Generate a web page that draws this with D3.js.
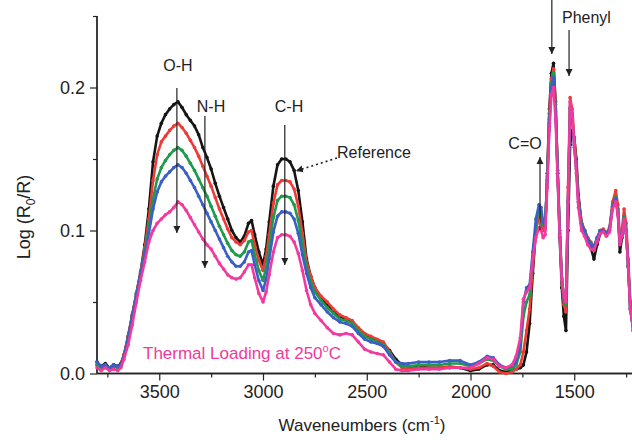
<!DOCTYPE html>
<meta charset="utf-8">
<style>
    body { margin: 0; background: #fff; }
    text { font-family: "Liberation Sans", Arial, sans-serif; fill: #222; }
    .tick text { font-size: 18px; }
    .annot { font-size: 16px; }
</style>
<body>
<script src="https://d3js.org/d3.v7.min.js"></script>
<script>
// wavenumber grid (cm-1), shared by all traces
let wavenumbers = [
    3800, 3780, 3760, 3740, 3720, 3700, 3685,
    3670, 3650, 3630, 3610, 3590, 3570, 3550, 3530, 3510, 3490, 3470, 3450, 3430, 3410,
    3390, 3370, 3350, 3330, 3310, 3290, 3270, 3250, 3230, 3210, 3190, 3170, 3150, 3130, 3110, 3090, 3070, 3055, 3040, 3020, 3000,
    2985, 2970, 2950, 2930, 2910, 2890, 2870, 2850, 2830, 2810, 2790,
    2770, 2750, 2720, 2690, 2660, 2630, 2600, 2570, 2540, 2510, 2480, 2450, 2420, 2390, 2360, 2330, 2300,
    2250, 2200, 2150, 2100, 2050, 2000, 1960, 1920, 1890, 1860, 1830, 1800,
    1780, 1760, 1745, 1730, 1715, 1700, 1685, 1670, 1660, 1650, 1640, 1630, 1620, 1610, 1600, 1590,
    1580, 1570, 1560, 1550, 1540, 1530, 1520, 1510, 1500, 1490, 1480, 1465, 1450, 1435, 1420, 1405,
    1390, 1375, 1360, 1345, 1330, 1315, 1300, 1290, 1280, 1270, 1260, 1250, 1240, 1230, 1215, 1200
];

// Log(R0/R) for each loading step (black = reference)
let referenceValues = [
    0.008, 0.005, 0.007, 0.004, 0.006, 0.005, 0.007,
    0.013, 0.026, 0.041, 0.056, 0.071, 0.09, 0.115, 0.148, 0.166, 0.175, 0.181, 0.185, 0.188, 0.19,
    0.186, 0.181, 0.177, 0.173, 0.167, 0.158, 0.151, 0.143, 0.133, 0.124, 0.116, 0.108, 0.1, 0.095, 0.092, 0.096, 0.105, 0.107, 0.097, 0.085, 0.076,
    0.087, 0.106, 0.131, 0.146, 0.15, 0.15, 0.148, 0.142, 0.128, 0.106, 0.08,
    0.068, 0.06, 0.053, 0.048, 0.044, 0.04, 0.038, 0.036, 0.031, 0.027, 0.025, 0.023, 0.021, 0.016, 0.01, 0.006, 0.005,
    0.005, 0.004, 0.004, 0.004, 0.004, 0.002, 0.003, 0.006, 0.006, 0.002, 0.001, 0.002,
    0.003, 0.004, 0.006, 0.015, 0.035, 0.07, 0.1, 0.112, 0.11, 0.1, 0.102, 0.14, 0.185, 0.21, 0.217, 0.19,
    0.14, 0.095, 0.06, 0.04, 0.03, 0.1, 0.16, 0.17, 0.165, 0.15, 0.125, 0.105, 0.1, 0.093, 0.088, 0.08,
    0.09, 0.098, 0.1, 0.097, 0.1, 0.118, 0.124, 0.115, 0.085, 0.095, 0.107, 0.1, 0.075, 0.045, 0.03, 0.02
];
let redValues = [
    0.006, 0.004, 0.006, 0.003, 0.005, 0.004, 0.006,
    0.013, 0.026, 0.041, 0.056, 0.071, 0.088, 0.108, 0.135, 0.153, 0.162, 0.166, 0.17, 0.173, 0.175,
    0.172, 0.168, 0.163, 0.158, 0.152, 0.145, 0.138, 0.131, 0.123, 0.115, 0.108, 0.101, 0.095, 0.092, 0.09, 0.093, 0.099, 0.1, 0.09, 0.079, 0.072,
    0.082, 0.097, 0.119, 0.132, 0.135, 0.135, 0.134, 0.129, 0.117, 0.098, 0.078,
    0.068, 0.06, 0.054, 0.05, 0.045, 0.041, 0.039, 0.037, 0.032, 0.028, 0.026, 0.024, 0.022, 0.015, 0.008, 0.004, 0.003,
    0.004, 0.004, 0.004, 0.005, 0.004, 0.003, 0.004, 0.007, 0.005, 0.001, 0.0, 0.001,
    0.003, 0.006, 0.015, 0.03, 0.045, 0.075, 0.1, 0.112, 0.11, 0.1, 0.101, 0.138, 0.182, 0.206, 0.213, 0.188,
    0.142, 0.1, 0.065, 0.048, 0.043, 0.13, 0.193, 0.185, 0.165, 0.148, 0.122, 0.106, 0.1, 0.095, 0.092, 0.088,
    0.094, 0.1, 0.101, 0.098, 0.102, 0.12, 0.128, 0.118, 0.094, 0.1, 0.115, 0.105, 0.08, 0.05, 0.033, 0.022
];
let greenValues = [
    0.006, 0.004, 0.005, 0.003, 0.005, 0.004, 0.005,
    0.012, 0.025, 0.04, 0.055, 0.07, 0.085, 0.102, 0.122, 0.136, 0.144, 0.149, 0.153, 0.156, 0.158,
    0.156, 0.152, 0.147, 0.142, 0.136, 0.13, 0.124, 0.117, 0.11, 0.103, 0.097, 0.091, 0.086, 0.083, 0.082, 0.085, 0.092, 0.093, 0.083, 0.072, 0.065,
    0.074, 0.089, 0.109, 0.121, 0.124, 0.124, 0.123, 0.118, 0.107, 0.09, 0.074,
    0.064, 0.057, 0.051, 0.046, 0.042, 0.038, 0.037, 0.035, 0.03, 0.026, 0.024, 0.022, 0.02, 0.014, 0.008, 0.005, 0.005,
    0.006, 0.006, 0.006, 0.007, 0.007, 0.005, 0.007, 0.01, 0.009, 0.005, 0.003, 0.003,
    0.006, 0.015, 0.04, 0.05, 0.055, 0.08, 0.104, 0.115, 0.113, 0.104, 0.103, 0.136, 0.178, 0.203, 0.21, 0.185,
    0.142, 0.1, 0.067, 0.052, 0.048, 0.12, 0.186, 0.18, 0.16, 0.145, 0.12, 0.105, 0.1, 0.094, 0.091, 0.088,
    0.094, 0.1, 0.1, 0.097, 0.1, 0.117, 0.123, 0.113, 0.092, 0.098, 0.11, 0.1, 0.076, 0.047, 0.031, 0.021
];
let blueValues = [
    0.008, 0.005, 0.006, 0.004, 0.006, 0.005, 0.006,
    0.012, 0.025, 0.04, 0.055, 0.07, 0.083, 0.098, 0.115, 0.127, 0.134, 0.138, 0.141, 0.144, 0.146,
    0.144, 0.14, 0.135, 0.13, 0.124, 0.118, 0.112, 0.106, 0.1, 0.094, 0.088, 0.082, 0.078, 0.075, 0.075, 0.078, 0.085, 0.086, 0.076, 0.065, 0.058,
    0.066, 0.08, 0.099, 0.11, 0.113, 0.113, 0.112, 0.108, 0.098, 0.083, 0.07,
    0.06, 0.053, 0.048, 0.043, 0.039, 0.036, 0.035, 0.033, 0.028, 0.024, 0.022, 0.021, 0.019, 0.013, 0.008, 0.007, 0.007,
    0.008, 0.008, 0.008, 0.009, 0.009, 0.006, 0.008, 0.012, 0.011, 0.006, 0.004, 0.005,
    0.008, 0.02, 0.05, 0.06, 0.062, 0.085, 0.108, 0.118, 0.116, 0.106, 0.104, 0.135, 0.175, 0.2, 0.207, 0.183,
    0.14, 0.098, 0.066, 0.053, 0.05, 0.12, 0.185, 0.178, 0.158, 0.143, 0.12, 0.104, 0.1, 0.094, 0.09, 0.089,
    0.095, 0.1, 0.1, 0.098, 0.101, 0.117, 0.122, 0.112, 0.092, 0.097, 0.108, 0.098, 0.075, 0.046, 0.03, 0.02
];
let magentaValues = [
    0.004, 0.002, 0.004, 0.002, 0.003, 0.002, 0.004,
    0.01, 0.02, 0.034, 0.05, 0.065, 0.078, 0.092, 0.1, 0.105, 0.108, 0.111, 0.113, 0.116, 0.12,
    0.118, 0.114, 0.109, 0.104, 0.099, 0.094, 0.09, 0.087, 0.082, 0.077, 0.073, 0.069, 0.067, 0.066, 0.067, 0.071, 0.076, 0.076, 0.067, 0.056, 0.05,
    0.057, 0.069, 0.085, 0.095, 0.097, 0.097, 0.096, 0.092, 0.084, 0.072, 0.058,
    0.048, 0.042, 0.037, 0.032, 0.028, 0.027, 0.028, 0.027, 0.022, 0.017, 0.015, 0.014, 0.013, 0.008, 0.003, 0.002, 0.002,
    0.003, 0.003, 0.003, 0.004, 0.004, 0.004, 0.007, 0.011, 0.01, 0.005, 0.004, 0.006,
    0.012, 0.025, 0.052, 0.057, 0.06, 0.08, 0.095, 0.102, 0.1, 0.095, 0.097, 0.13, 0.17, 0.195, 0.2, 0.178,
    0.135, 0.096, 0.066, 0.054, 0.05, 0.12, 0.19, 0.182, 0.16, 0.14, 0.116, 0.1, 0.096, 0.09, 0.087, 0.086,
    0.092, 0.098, 0.099, 0.096, 0.099, 0.115, 0.12, 0.111, 0.09, 0.096, 0.108, 0.098, 0.074, 0.045, 0.03, 0.02
];

let seriesColors = ["#151515", "#ef3b36", "#1f9a4c", "#3b5fc6", "#f23a9e"];
let yTicks = [0.0, 0.1, 0.2];
let xTicks = [3500, 3000, 2500, 2000, 1500];

let width = 632;
let height = 440;

let svg = d3.select("body").append("svg")
    .attr("width", width)
    .attr("height", height);

let x = d3.scaleLinear()
    .domain([3800, 1200])
    .range([97, 636.5]);

let y = d3.scaleLinear()
    .domain([0, 0.25])
    .range([373.5, 16]);

// axes
let xAxis = svg.append("g")
    .attr("transform", "translate(0," + y(0) + ")")
    .call(d3.axisBottom(x).tickValues(xTicks).tickFormat(d3.format("d")).tickSize(7).tickPadding(5));
xAxis.append("g")
    .call(d3.axisBottom(x).tickValues(d3.range(3750, 1200, -500)).tickFormat("").tickSize(4));

let yAxis = svg.append("g")
    .attr("transform", "translate(" + x(3800) + ",0)")
    .call(d3.axisLeft(y).tickValues(yTicks).tickFormat(d3.format(".1f")).tickSize(7).tickPadding(5));
yAxis.append("g")
    .call(d3.axisLeft(y).tickValues([0.05, 0.15, 0.25]).tickFormat("").tickSize(4));

svg.selectAll(".domain").attr("stroke", "#222").attr("stroke-width", 1.3);
svg.selectAll(".tick line").attr("stroke", "#222").attr("stroke-width", 1.2);
svg.selectAll(".tick text").attr("fill", "#222");
// remove the outer end ticks of domain paths
xAxis.selectAll(".domain").attr("d", "M" + x(3800) + ",0H" + width);
yAxis.selectAll(".domain").attr("d", "M0," + y(0) + "V" + y(0.25));

// axis titles
let xTitle = svg.append("text")
    .attr("x", 362)
    .attr("y", 431)
    .attr("text-anchor", "middle")
    .style("font-size", "17px");
xTitle.append("tspan").text("Waveneumbers (cm");
xTitle.append("tspan").attr("dy", -7).style("font-size", "11px").text("-1");
xTitle.append("tspan").attr("dy", 7).text(")");

let yTitle = svg.append("text")
    .attr("transform", "translate(30,217) rotate(-90)")
    .attr("text-anchor", "middle")
    .style("font-size", "18px");
yTitle.append("tspan").text("Log (R");
yTitle.append("tspan").attr("dy", 5).style("font-size", "12px").text("0");
yTitle.append("tspan").attr("dy", -5).text("/R)");

// traces
let series = [referenceValues, redValues, greenValues, blueValues, magentaValues].map(function(vals, i){
    return {color: seriesColors[i], points: wavenumbers.map(function(w, j){ return [w, vals[j]]; })};
});

let line = d3.line()
    .x(function(d){ return x(d[0]); })
    .y(function(d){ return y(d[1]); });

let traces = svg.append("g");
series.forEach(function(s){
    traces.append("path")
        .datum(s.points)
        .attr("fill", "none")
        .attr("stroke", s.color)
        .attr("stroke-width", 2.6)
        .attr("stroke-linejoin", "round")
        .attr("d", line);
    traces.selectAll(null)
        .data(s.points)
        .join("circle")
        .attr("cx", function(d){ return x(d[0]); })
        .attr("cy", function(d){ return y(d[1]); })
        .attr("r", 1.8)
        .attr("fill", s.color);
});

// annotation arrows
let defs = svg.append("defs");
defs.append("marker")
    .attr("id", "head")
    .attr("viewBox", "0 0 10 10")
    .attr("refX", 10).attr("refY", 5)
    .attr("markerWidth", 7).attr("markerHeight", 9)
    .attr("markerUnits", "userSpaceOnUse")
    .attr("orient", "auto")
    .append("path")
    .attr("d", "M0,0L10,5L0,10Z")
    .attr("fill", "#222");

function arrow(x1, y1, x2, y2, dashed){
    svg.append("line")
        .attr("x1", x1).attr("y1", y1)
        .attr("x2", x2).attr("y2", y2)
        .attr("stroke", "#222")
        .attr("stroke-width", dashed ? 1.6 : 1.2)
        .attr("stroke-dasharray", dashed ? "2,3" : null)
        .attr("marker-end", "url(#head)");
}

arrow(x(3415), 88, x(3415), 233);
arrow(x(3280), 116, x(3280), 268);
arrow(x(2895), 125, x(2895), 265);
arrow(x(1665), 230, x(1665), 157);
arrow(x(1608), 0, x(1608), 54);
arrow(x(1525), 30, x(1525), 76);
arrow(337, 158, 296, 171, true);

function label(txt, xPos, yPos, anchor){
    svg.append("text")
        .attr("class", "annot")
        .attr("x", xPos).attr("y", yPos)
        .attr("text-anchor", anchor || "middle")
        .text(txt);
}
label("O-H", 178, 71);
label("N-H", 211, 112);
label("C-H", 289, 112);
label("Reference", 337, 158, "start");
label("C=O", 525, 149);
label("Phenyl", 562, 23, "start");

let note = svg.append("text")
    .attr("x", 143).attr("y", 359)
    .style("font-size", "17px");
note.append("tspan").style("fill", "#ee3a9b").text("Thermal Loading at 250");
note.append("tspan").style("fill", "#ee3a9b").style("font-size", "11px").attr("dy", -7).text("o");
note.append("tspan").style("fill", "#ee3a9b").attr("dy", 7).text("C");
</script>
</body>
